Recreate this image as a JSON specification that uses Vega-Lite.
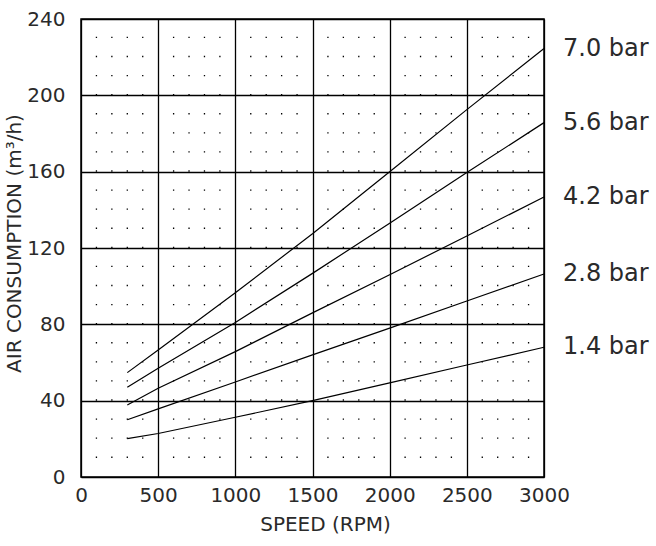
{
  "$schema": "https://vega.github.io/schema/vega-lite/v6.json",
  "width": 463,
  "height": 458,
  "autosize": {"type": "none"},
  "padding": {"left": 81, "top": 19, "right": 112, "bottom": 69},
  "background": "#ffffff",
  "config": {
    "font": "DejaVu Sans",
    "view": {"stroke": "#000000", "strokeWidth": 1.5},
    "axis": {
      "grid": true,
      "gridColor": "#000000",
      "gridWidth": 1.3,
      "gridOpacity": 1,
      "domain": false,
      "ticks": false,
      "labelFlush": false,
      "labelOverlap": false,
      "labelFont": "DejaVu Sans",
      "labelFontSize": 20,
      "labelColor": "#2a2a2a",
      "titleFont": "DejaVu Sans",
      "titleFontSize": 20,
      "titleFontWeight": "normal",
      "titleColor": "#2a2a2a"
    }
  },
  "datasets": {
    "dots": [
      {"speed": 100}, {"speed": 200}, {"speed": 300}, {"speed": 400},
      {"speed": 600}, {"speed": 700}, {"speed": 800}, {"speed": 900},
      {"speed": 1100}, {"speed": 1200}, {"speed": 1300}, {"speed": 1400},
      {"speed": 1600}, {"speed": 1700}, {"speed": 1800}, {"speed": 1900},
      {"speed": 2100}, {"speed": 2200}, {"speed": 2300}, {"speed": 2400},
      {"speed": 2600}, {"speed": 2700}, {"speed": 2800}, {"speed": 2900}
    ],
    "curves": [
      {"p": "7.0 bar", "speed": 300, "air": 54.7},
      {"p": "7.0 bar", "speed": 500, "air": 66.5},
      {"p": "7.0 bar", "speed": 1000, "air": 96.5},
      {"p": "7.0 bar", "speed": 1500, "air": 127.5},
      {"p": "7.0 bar", "speed": 2000, "air": 160},
      {"p": "7.0 bar", "speed": 2500, "air": 192.5},
      {"p": "7.0 bar", "speed": 3000, "air": 224.5},
      {"p": "5.6 bar", "speed": 300, "air": 47},
      {"p": "5.6 bar", "speed": 500, "air": 57},
      {"p": "5.6 bar", "speed": 1000, "air": 81},
      {"p": "5.6 bar", "speed": 1500, "air": 106.7},
      {"p": "5.6 bar", "speed": 2000, "air": 133},
      {"p": "5.6 bar", "speed": 2500, "air": 159.5},
      {"p": "5.6 bar", "speed": 3000, "air": 185.7},
      {"p": "4.2 bar", "speed": 300, "air": 37.7},
      {"p": "4.2 bar", "speed": 500, "air": 46.5},
      {"p": "4.2 bar", "speed": 1000, "air": 65.7},
      {"p": "4.2 bar", "speed": 1500, "air": 86},
      {"p": "4.2 bar", "speed": 2000, "air": 106},
      {"p": "4.2 bar", "speed": 2500, "air": 126.3},
      {"p": "4.2 bar", "speed": 3000, "air": 146.7},
      {"p": "2.8 bar", "speed": 300, "air": 30},
      {"p": "2.8 bar", "speed": 500, "air": 35.7},
      {"p": "2.8 bar", "speed": 1000, "air": 49.8},
      {"p": "2.8 bar", "speed": 1500, "air": 64},
      {"p": "2.8 bar", "speed": 2000, "air": 78},
      {"p": "2.8 bar", "speed": 2500, "air": 92.2},
      {"p": "2.8 bar", "speed": 3000, "air": 106.4},
      {"p": "1.4 bar", "speed": 300, "air": 20.1},
      {"p": "1.4 bar", "speed": 500, "air": 22.8},
      {"p": "1.4 bar", "speed": 1000, "air": 31.3},
      {"p": "1.4 bar", "speed": 1500, "air": 40},
      {"p": "1.4 bar", "speed": 2000, "air": 49.3},
      {"p": "1.4 bar", "speed": 2500, "air": 58.7},
      {"p": "1.4 bar", "speed": 3000, "air": 68}
    ]
  },
  "layer": [
    {
      "data": {"name": "dots"},
      "mark": {"type": "rule", "color": "#000000", "strokeWidth": 1.3, "strokeDash": [1.3, 17.783]},
      "encoding": {
        "x": {
          "field": "speed", "type": "quantitative",
          "scale": {"domain": [0, 3000], "nice": false, "zero": false},
          "axis": {"title": "SPEED (RPM)", "format": "d", "values": [0, 500, 1000, 1500, 2000, 2500, 3000], "labelPadding": 8, "titlePadding": 9, "titleX": 244}
        },
        "y": {
          "datum": 10, "type": "quantitative",
          "scale": {"domain": [0, 240], "nice": false},
          "axis": {"title": "AIR CONSUMPTION (m³/h)", "values": [0, 40, 80, 120, 160, 200, 240], "labelPadding": 16, "titleX": -57, "titleY": 224}
        },
        "y2": {"datum": 231}
      }
    },
    {
      "data": {"name": "curves"},
      "mark": {"type": "line", "color": "#000000", "strokeWidth": 1.2},
      "encoding": {
        "x": {"field": "speed", "type": "quantitative"},
        "y": {"field": "air", "type": "quantitative"},
        "detail": {"field": "p"}
      }
    },
    {
      "data": {"name": "curves"},
      "transform": [{"filter": "datum.speed == 3000"}],
      "mark": {"type": "text", "align": "left", "baseline": "middle", "dx": 19, "fontSize": 24, "color": "#2a2a2a", "font": "DejaVu Sans"},
      "encoding": {
        "x": {"field": "speed", "type": "quantitative"},
        "y": {"field": "air", "type": "quantitative"},
        "text": {"field": "p"}
      }
    }
  ]
}
